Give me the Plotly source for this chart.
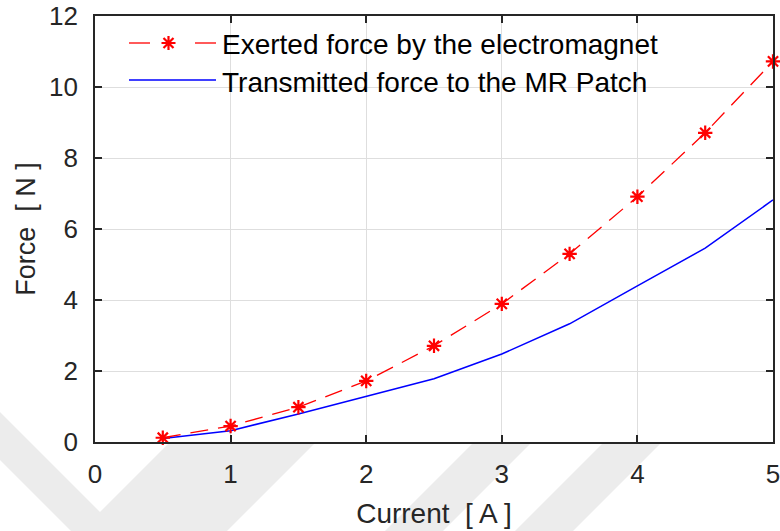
import plotly.graph_objects as go

# Measured force vs. coil current
current = [0.5, 1.0, 1.5, 2.0, 2.5, 3.0, 3.5, 4.0, 4.5, 5.0]
exerted_force = [0.12, 0.45, 0.98, 1.72, 2.71, 3.89, 5.30, 6.91, 8.71, 10.72]
transmitted_force = [0.10, 0.32, 0.79, 1.28, 1.78, 2.48, 3.33, 4.40, 5.46, 6.82]

x_ticks = [0, 1, 2, 3, 4, 5]
y_ticks = [0, 2, 4, 6, 8, 10, 12]
legend_labels = ["Exerted force by the electromagnet", "Transmitted force to the MR Patch"]

W, H = 780, 531
L, R, T, B = 95, 7, 16, 89
PW, PH = W - L - R, H - T - B

FONT = "Liberation Sans, Arial, sans-serif"
AXIS_COLOR = "#262626"
GRID_COLOR = "#dedede"


def px(x):
    return (x - L) / PW


def py(y):
    return (H - B - y) / PH


fig = go.Figure()

fig.add_trace(go.Scatter(
    x=current, y=transmitted_force, mode="lines",
    line=dict(color="#0000ff", width=1.5),
    showlegend=False,
))
fig.add_trace(go.Scatter(
    x=current, y=exerted_force, mode="lines+markers",
    line=dict(color="#ff0000", width=1.3, dash="18px,10px"),
    marker=dict(symbol="asterisk-open", size=12, color="#ff0000",
                line=dict(color="#ff0000", width=2.2)),
    showlegend=False, cliponaxis=False,
))

shapes = []

# faint background watermark (chevron and diagonal stripes)
WM = "rgba(236,236,236,1)"


def poly(points):
    path = "M " + " L ".join(f"{px(a):.5f},{py(b):.5f}" for a, b in points) + " Z"
    return dict(type="path", xref="paper", yref="paper", path=path,
                fillcolor=WM, line=dict(width=0), layer="below")


shapes.append(poly([(0, 412), (100, 512), (300, 312), (446, 312), (227, 531), (71, 531), (0, 460)]))
for x0 in (385, 515):
    shapes.append(poly([(x0, 531), (x0 + 58, 531), (x0 + 58 + 89, 442), (x0 + 89, 442)]))
# keep the plot area itself clean
shapes.append(dict(type="rect", xref="paper", yref="paper", x0=0, x1=1, y0=0, y1=1,
                   fillcolor="white", line=dict(width=0), layer="below"))

# legend samples
LY1, LY2 = 43, 80
shapes.append(dict(type="line", xref="paper", yref="paper", x0=px(129), x1=px(150),
                   y0=py(LY1), y1=py(LY1), line=dict(color="#ff0000", width=1.3)))
shapes.append(dict(type="line", xref="paper", yref="paper", x0=px(195), x1=px(216),
                   y0=py(LY1), y1=py(LY1), line=dict(color="#ff0000", width=1.3)))
cx, cy, r, rd = 168.5, LY1, 7.0, 5.0
star = (f"M {px(cx - r)},{py(cy)} L {px(cx + r)},{py(cy)} "
        f"M {px(cx)},{py(cy - r)} L {px(cx)},{py(cy + r)} "
        f"M {px(cx - rd)},{py(cy - rd)} L {px(cx + rd)},{py(cy + rd)} "
        f"M {px(cx - rd)},{py(cy + rd)} L {px(cx + rd)},{py(cy - rd)}")
shapes.append(dict(type="path", xref="paper", yref="paper", path=star,
                   line=dict(color="#ff0000", width=2.2)))
shapes.append(dict(type="line", xref="paper", yref="paper", x0=px(129), x1=px(216),
                   y0=py(LY2), y1=py(LY2), line=dict(color="#0000ff", width=1.5)))

annotations = [
    dict(text=legend_labels[0], xref="paper", yref="paper", x=px(220), y=py(LY1 + 2),
         xanchor="left", yanchor="middle", showarrow=False,
         font=dict(family=FONT, size=28, color="black")),
    dict(text=legend_labels[1], xref="paper", yref="paper", x=px(220), y=py(LY2 + 2),
         xanchor="left", yanchor="middle", showarrow=False,
         font=dict(family=FONT, size=28, color="black")),
]

axis_common = dict(
    showline=True, linecolor=AXIS_COLOR, linewidth=1.6, mirror="ticks",
    ticks="inside", ticklen=7, tickwidth=1.6, tickcolor=AXIS_COLOR,
    showgrid=True, gridcolor=GRID_COLOR, gridwidth=1, zeroline=False,
    tickfont=dict(family=FONT, size=26, color=AXIS_COLOR),
    automargin=False, ticklabeloverflow="allow",
)

fig.update_xaxes(
    range=[0, 5], tickvals=x_ticks, ticklabelstandoff=8,
    title=dict(text="Current  [ A ]", standoff=15,
               font=dict(family=FONT, size=28, color=AXIS_COLOR)),
    **axis_common,
)
fig.update_yaxes(
    range=[0, 12], tickvals=y_ticks, ticklabelstandoff=10,
    title=dict(text="Force  [ N ]", standoff=6,
               font=dict(family=FONT, size=27, color=AXIS_COLOR)),
    **axis_common,
)

fig.update_layout(
    width=W, height=H,
    margin=dict(l=L, r=R, t=T, b=B),
    paper_bgcolor="white", plot_bgcolor="white",
    shapes=shapes, annotations=annotations,
    showlegend=False,
)

fig.write_html("out.html")
